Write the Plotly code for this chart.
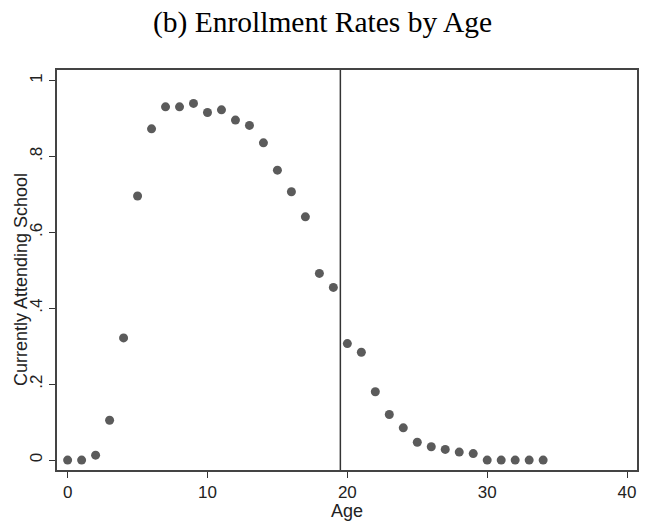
import plotly.graph_objects as go

ages = list(range(0, 35))
enroll = [0.0, 0.0, 0.013, 0.105, 0.322, 0.696, 0.873, 0.931, 0.931, 0.940,
          0.916, 0.923, 0.896, 0.882, 0.836, 0.764, 0.707, 0.641, 0.492, 0.455,
          0.307, 0.284, 0.180, 0.120, 0.085, 0.047, 0.035, 0.028, 0.021, 0.017,
          0.0, 0.0, 0.0, 0.0, 0.0]
cutoff_age = [19.5]
x_ticks = [0, 10, 20, 30, 40]
y_ticks = [0, 0.2, 0.4, 0.6, 0.8, 1.0]
y_tick_labels = ["0", ".2", ".4", ".6", ".8", "1"]

fig = go.Figure()
fig.add_trace(go.Scatter(
    x=ages, y=enroll, mode="markers",
    marker=dict(size=9, color="#5b5b5b", line=dict(width=0)),
    showlegend=False, hoverinfo="skip"))

for c in cutoff_age:
    fig.add_vline(x=c, line=dict(color="#333333", width=1.5))

sans = "Liberation Sans, Arial, sans-serif"
tick_font = dict(family=sans, size=17, color="#222222")
title_font = dict(family=sans, size=18, color="#222222")

fig.add_annotation(text="Currently Attending School", textangle=-90,
                   xref="paper", yref="paper", x=-0.062, y=0.475,
                   xanchor="center", yanchor="middle", showarrow=False,
                   font=title_font)

fig.update_layout(
    width=645, height=521,
    margin=dict(l=57, r=6, t=70, b=49),
    paper_bgcolor="white", plot_bgcolor="white",
    title=dict(text="(b) Enrollment Rates by Age", x=0.5, xanchor="center",
               y=0.958, yanchor="middle",
               font=dict(family="Liberation Serif, Times New Roman, serif", size=29.5, color="black")),
    xaxis=dict(range=[-0.76, 40.71], tickvals=x_ticks, ticks="outside", ticklen=6,
               tickcolor="#333333", tickwidth=1.2,
               showgrid=False, zeroline=False, showline=True, mirror=True,
               linecolor="#444444", linewidth=1.5, tickfont=tick_font,
               title=dict(text="Age", font=title_font, standoff=0)),
    yaxis=dict(range=[-0.0262, 1.028], tickvals=y_ticks, ticktext=y_tick_labels,
               ticks="outside", ticklen=6, tickcolor="#333333", tickwidth=1.2,
               tickangle=-90,
               showgrid=False, zeroline=False, showline=True, mirror=True,
               linecolor="#444444", linewidth=1.5, tickfont=tick_font),
)

fig.write_html("out.html")
